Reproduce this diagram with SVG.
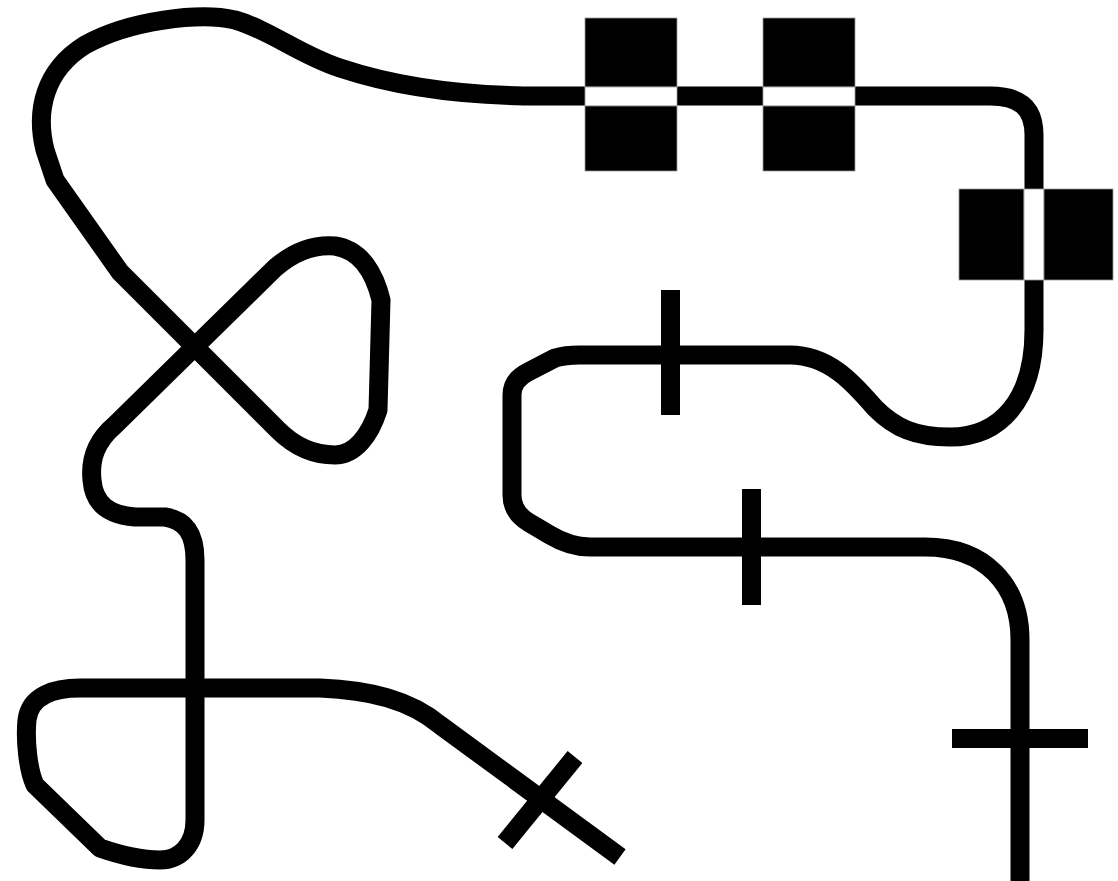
<svg xmlns="http://www.w3.org/2000/svg" width="1118" height="881" viewBox="0 0 1118 881">
<style>
.track{fill:none;stroke:#000;stroke-width:19;stroke-linejoin:round;stroke-linecap:butt}
.blk{fill:#000}
.gap{fill:#fff;stroke:#999;stroke-width:0.8}
.sq{fill:#000;stroke:#999;stroke-width:0.8}
</style>
<rect width="1118" height="881" fill="#fff"/>
<g id="track">
<path class="track" d="M 1020 881 L 1020 640 C 1020 585, 985 547, 925 547 L 590 547 Q 570 547 550 535 L 528 522 Q 512 512 512 495 L 512 395 Q 512 380 528 372 L 555 358 Q 565 355 580 355 L 790 355 C 830 355, 855 385, 875 408 C 895 428, 915 437, 950 437 C 1000 437, 1034 400, 1034 330 L 1034 135 C 1034 108, 1020 96, 990 96 L 540 96 C 470 96, 400 88, 340 68 C 300 55, 270 30, 235 20 C 200 12, 130 20, 85 45 C 45 70, 35 110, 45 150 L 55 180 L 120 272 L 278 430 C 295 447, 315 455, 335 455 C 355 455, 370 435, 378 410 L 381 300 C 375 275, 362 250, 335 246 C 310 244, 290 255, 275 268 L 115 425 C 95 442, 90 460, 92 480 C 94 505, 110 515, 135 517 L 165 517 C 185 520, 195 533, 195 560 L 195 820 C 195 845, 180 860, 160 860 C 140 860, 120 855, 100 848 L 35 785 C 28 770, 25 740, 27 720 C 30 695, 55 688, 80 688 L 320 688 C 370 690, 410 700, 440 725 L 620 857"/>
</g>
<g id="flag1">
<rect class="sq" x="585" y="18" width="92" height="69"/>
<rect class="gap" x="585" y="87" width="92" height="19"/>
<rect class="sq" x="585" y="106" width="92" height="65"/>
</g>
<g id="flag2">
<rect class="sq" x="763" y="18" width="92" height="69"/>
<rect class="gap" x="763" y="87" width="92" height="19"/>
<rect class="sq" x="763" y="106" width="92" height="65"/>
</g>
<g id="flag3">
<rect class="sq" x="959" y="189" width="65" height="91"/>
<rect class="gap" x="1024" y="189" width="20" height="91"/>
<rect class="sq" x="1044" y="189" width="69" height="91"/>
</g>
<g id="mark1"><rect class="blk" x="661" y="290" width="19" height="125"/></g>
<g id="mark2"><rect class="blk" x="742" y="489" width="19" height="116"/></g>
<g id="mark3"><rect class="blk" x="952" y="729" width="136" height="19"/></g>
<g id="mark4"><line x1="505" y1="843" x2="575" y2="757" stroke="#000" stroke-width="19"/></g>
</svg>
